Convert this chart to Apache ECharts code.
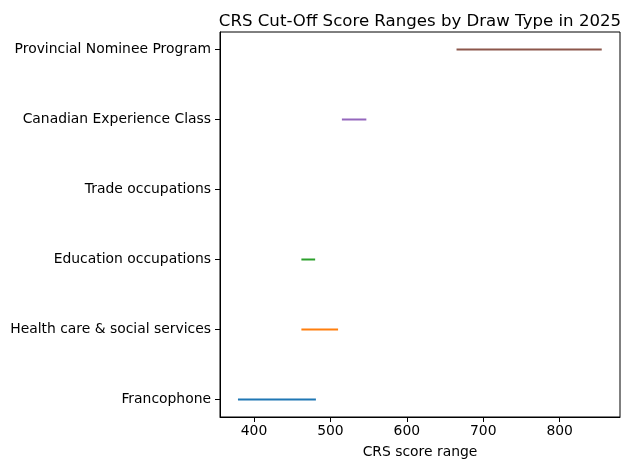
<!DOCTYPE html>
<html>
<head>
<meta charset="utf-8">
<script src="https://cdn.jsdelivr.net/npm/echarts@6/dist/echarts.min.js"></script>
<style>
  html, body { margin: 0; padding: 0; background: #fff; }
  #chart { width: 631px; height: 470px; }
</style>
</head>
<body>
<div id="chart"></div>
<script>
// draw types, bottom to top
var drawTypes = ['Francophone', 'Health care & social services', 'Education occupations',
                 'Trade occupations', 'Canadian Experience Class', 'Provincial Nominee Program'];
// lowest and highest cut-off score per draw type (Trade: no range drawn)
var lowScores  = [379, 462, 462, null, 515, 665];
var highScores = [481, 510, 480, null, 547, 855];
var lineColors = ['#1f77b4', '#ff7f0e', '#2ca02c', '#d62728', '#9467bd', '#8c564b'];
var xTicks = [400, 500, 600, 700, 800];

var font = 'DejaVu Sans';
var series = [];
for (var i = 0; i < drawTypes.length; i++) {
  var pts = [];
  if (lowScores[i] != null) {
    pts = [[lowScores[i], i], [highScores[i], i]];
  }
  series.push({
    name: drawTypes[i],
    type: 'line',
    data: pts,
    symbol: 'none',
    lineStyle: { color: lineColors[i], width: 2 },
    silent: true
  });
}

var myChart = echarts.init(document.getElementById('chart'));
var option = {
  animation: false,
  title: {
    text: 'CRS Cut-Off Score Ranges by Draw Type in 2025',
    left: 415,
    textAlign: 'center',
    top: 8,
    textStyle: { fontFamily: font, fontSize: 16.6, fontWeight: 'normal', color: '#000' }
  },
  grid: {
    left: 220, right: 11, top: 32, bottom: 53,
    show: true, borderColor: '#000', borderWidth: 1, backgroundColor: '#fff'
  },
  xAxis: {
    type: 'value',
    min: 355.5,
    max: 878.9,
    name: 'CRS score range',
    nameLocation: 'middle',
    nameGap: 28,
    nameTextStyle: { fontFamily: font, fontSize: 13.9, color: '#000' },
    splitLine: { show: false },
    axisLine: { show: true, onZero: false, lineStyle: { color: '#000' } },
    axisTick: { show: true, length: 5, lineStyle: { color: '#000' }, customValues: xTicks },
    axisLabel: { fontFamily: font, fontSize: 13.9, color: '#000', margin: 7, customValues: xTicks }
  },
  yAxis: {
    type: 'value',
    min: -0.25,
    max: 5.25,
    splitLine: { show: false },
    axisLine: { show: true, onZero: false, lineStyle: { color: '#000' } },
    axisTick: { show: true, length: 5, lineStyle: { color: '#000' }, customValues: [0, 1, 2, 3, 4, 5] },
    axisLabel: {
      fontFamily: font, fontSize: 13.9, color: '#000', margin: 9,
      customValues: [0, 1, 2, 3, 4, 5],
      formatter: function (v) { return drawTypes[Math.round(v)]; }
    }
  },
  series: series
};
myChart.setOption(option);
</script>
</body>
</html>
